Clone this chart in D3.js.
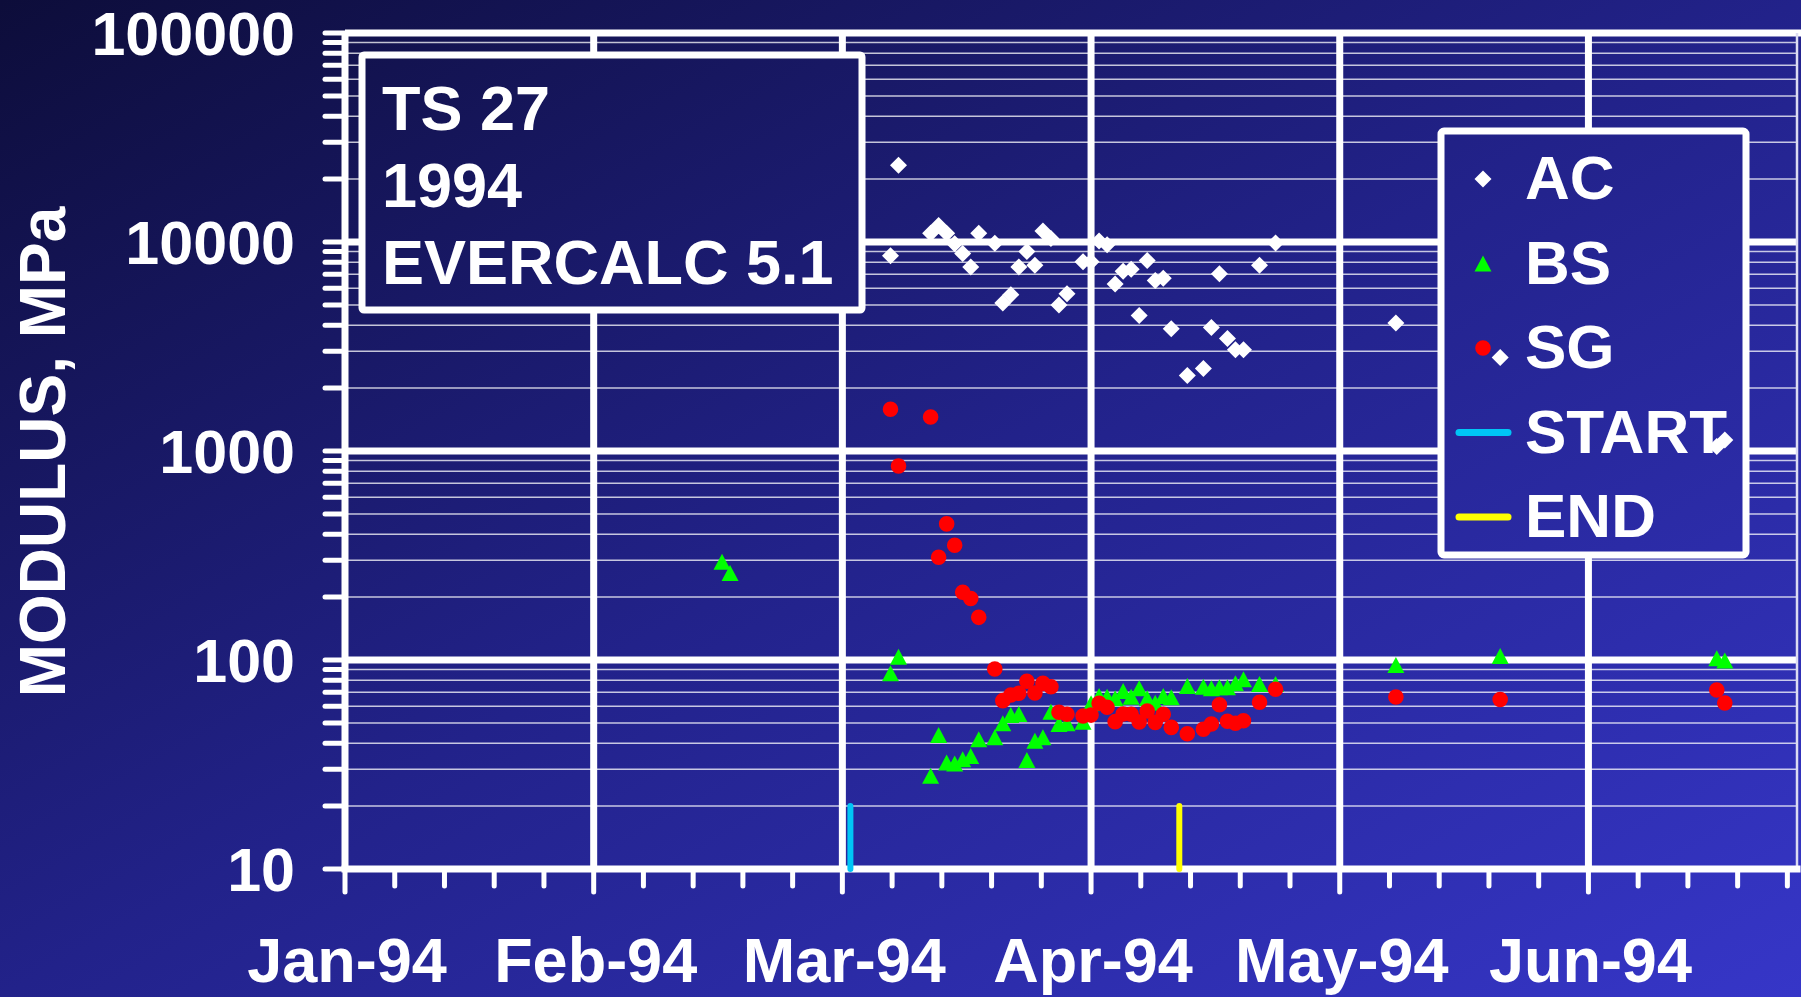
<!DOCTYPE html>
<html>
<head>
<meta charset="utf-8">
<script src="https://cdn.jsdelivr.net/npm/d3@7"></script>
<style>
  html, body { margin: 0; padding: 0; background: #1a1a6a; }
  svg { display: block; }
  text { font-family: "Liberation Sans", Arial, sans-serif; font-weight: bold; fill: #ffffff; }
</style>
</head>
<body>
<svg id="chart" width="1801" height="997"></svg>
<script>
// ---- Data: back-calculated layer moduli (MPa), test section TS 27, 1994 ----
const seriesNames = ["AC", "BS", "SG"];

const testDates = [
  "1994-02-17", "1994-02-18",
  "1994-03-10", "1994-03-11", "1994-03-15", "1994-03-16", "1994-03-17", "1994-03-18",
  "1994-03-19", "1994-03-20", "1994-03-21", "1994-03-23", "1994-03-24", "1994-03-25",
  "1994-03-26", "1994-03-27", "1994-03-28", "1994-03-29", "1994-03-30", "1994-03-31",
  "1994-04-01", "1994-04-03", "1994-04-04", "1994-04-05", "1994-04-06", "1994-04-07",
  "1994-04-08", "1994-04-09", "1994-04-10", "1994-04-11", "1994-04-12", "1994-04-13",
  "1994-04-14", "1994-04-16", "1994-04-18", "1994-04-19", "1994-04-20", "1994-04-21",
  "1994-04-22", "1994-04-23", "1994-04-25", "1994-04-27",
  "1994-05-12", "1994-05-25", "1994-06-21", "1994-06-22"
];

const acModulus = [
  null, null,
  8600, 23300, 11000, 12000, 11000, 9800,
  8800, 7600, 11000, 9850, 5100, 5600,
  7600, 9000, 7750, 11300, 10400, 5000,
  5650, 8050, 8050, 10100, 9700, 6300,
  7250, 7400, 4450, 8150, 6550, 6700,
  3850, 2300, 2480, 3900, 7050, 3450,
  3050, 3050, 7750, 9900,
  4100, 2800, 1050, 1130
];

const bsModulus = [
  295, 261,
  86.4, 103.7, 27.9, 43.8, 32.3, 32.0,
  33.5, 34.7, 41.8, 42.7, 49.8, 54.5,
  55.2, 33.2, 41.1, 42.7, 56.6, 49.4,
  49.8, 50.7, 62.1, 67.3, 66.7, 65.6,
  71.1, 66.7, 73.2, 65.6, 62.5, 67.3,
  66.3, 75.1, 74.5, 73.2, 74.0, 74.0,
  77.3, 80.9, 76.8, 76.8,
  94.6, 104.5, 102, 99.5
];

const sgModulus = [
  null, null,
  1585, 848, 1455, 310, 448, 354,
  211, 197, 160, 90.6, 63.9, 68.0,
  69.3, 79.1, 69.5, 77.3, 74.5, 56.2,
  55.0, 54.0, 54.5, 62.1, 59.4, 50.7,
  55.2, 55.0, 50.5, 57.0, 50.3, 55.0,
  47.6, 44.4, 46.6, 49.4, 61.1, 50.9,
  49.8, 51.2, 62.8, 72.4,
  66.5, 64.7, 71.8, 62.3
];

// Start / end of the test period, drawn as short bars from 10 to 20 MPa
const periodNames = ["START", "END"];
const periodDates = ["1994-03-05", "1994-04-15"];
const periodRange = [10, 20];

// Axes
const xDomainDates = ["1994-01-01", "1994-07-01"];
const xMajorStepDays = 31;
const xMinorPerMajor = 5;
const xTickLabels = ["Jan-94", "Feb-94", "Mar-94", "Apr-94", "May-94", "Jun-94"];
const yMajorTicks = [10, 100, 1000, 10000, 100000];
const yTickLabels = ["10", "100", "1000", "10000", "100000"];
const yTitle = "MODULUS, MPa";
const noteLines = ["TS 27", "1994", "EVERCALC 5.1"];

// ---- Layout ----
const W = 1801, H = 997;
const plot = { left: 345, right: 1797, top: 33, bottom: 869 };
const colors = { AC: "#ffffff", BS: "#00ff00", SG: "#ff0000", START: "#00c6f6", END: "#ffff00" };

const parse = d3.utcParse("%Y-%m-%d");
const DAY = 864e5;

const x = d3.scaleUtc()
  .domain(xDomainDates.map(parse))
  .range([plot.left, plot.right]);

const y = d3.scaleLog()
  .domain([yMajorTicks[0], yMajorTicks[yMajorTicks.length - 1]])
  .range([plot.bottom, plot.top]);

const svg = d3.select("#chart");
const defs = svg.append("defs");

// Diagonal background gradient, in page coordinates so boxes share it
const g = [1 / (2 * W), 1 / (2 * H)];
const g2 = g[0] * g[0] + g[1] * g[1];
const grad = defs.append("linearGradient")
  .attr("id", "bg")
  .attr("gradientUnits", "userSpaceOnUse")
  .attr("x1", 0).attr("y1", 0)
  .attr("x2", g[0] / g2).attr("y2", g[1] / g2);
grad.append("stop").attr("offset", 0).attr("stop-color", "#0d0d3a");
grad.append("stop").attr("offset", 0.5).attr("stop-color", "#22228a");
grad.append("stop").attr("offset", 1).attr("stop-color", "#3636c8");

svg.append("rect").attr("width", W).attr("height", H).attr("fill", "url(#bg)");

// ---- Gridlines ----
const startDate = parse(xDomainDates[0]);
const majorDates = d3.range(0, 181, xMajorStepDays).map(d => new Date(startDate.getTime() + d * DAY));
const minorStep = xMajorStepDays / xMinorPerMajor;
const minorDates = d3.range(1, Math.floor(181 / minorStep) + 1)
  .filter(i => i % xMinorPerMajor !== 0)
  .map(i => new Date(startDate.getTime() + i * minorStep * DAY));

const yMinor = [];
yMajorTicks.slice(0, -1).forEach(dec => {
  for (let k = 2; k <= 9; k++) yMinor.push(dec * k);
});

const grid = svg.append("g");
grid.selectAll(".ym").data(yMinor).join("line")
  .attr("x1", plot.left).attr("x2", plot.right)
  .attr("y1", d => y(d)).attr("y2", d => y(d))
  .attr("stroke", "#ffffff").attr("stroke-opacity", 0.75).attr("stroke-width", 1.5);

grid.selectAll(".yM").data(yMajorTicks.slice(1)).join("line")
  .attr("x1", plot.left).attr("x2", (d, i, n) => i === n.length - 1 ? W : plot.right)
  .attr("y1", d => y(d)).attr("y2", d => y(d))
  .attr("stroke", "#ffffff").attr("stroke-width", 7);

grid.selectAll(".xM").data(majorDates.slice(1)).join("line")
  .attr("x1", d => x(d)).attr("x2", d => x(d))
  .attr("y1", plot.top).attr("y2", plot.bottom)
  .attr("stroke", "#ffffff").attr("stroke-width", 7);

// right edge of the plot area
grid.append("line")
  .attr("x1", plot.right).attr("x2", plot.right)
  .attr("y1", plot.top).attr("y2", plot.bottom)
  .attr("stroke", "#dcdcf2").attr("stroke-width", 2.5);

// ---- Axes ----
const axes = svg.append("g").attr("stroke", "#ffffff").attr("stroke-linecap", "round");

// y ticks (major and minor)
axes.selectAll(".yt").data(yMajorTicks.concat(yMinor)).join("line")
  .attr("x1", plot.left - 20).attr("x2", plot.left)
  .attr("y1", d => y(d)).attr("y2", d => y(d))
  .attr("stroke-width", 5);

// x ticks
axes.selectAll(".xt").data(majorDates).join("line")
  .attr("x1", d => x(d)).attr("x2", d => x(d))
  .attr("y1", plot.bottom).attr("y2", plot.bottom + 23)
  .attr("stroke-width", 5);
axes.selectAll(".xm").data(minorDates).join("line")
  .attr("x1", d => x(d)).attr("x2", d => x(d))
  .attr("y1", plot.bottom).attr("y2", plot.bottom + 17)
  .attr("stroke-width", 5);

// axis lines
axes.append("line")
  .attr("x1", plot.left).attr("x2", plot.left)
  .attr("y1", plot.top).attr("y2", plot.bottom)
  .attr("stroke-width", 7).attr("stroke-linecap", "butt");
axes.append("line")
  .attr("x1", plot.left).attr("x2", plot.right)
  .attr("y1", plot.bottom).attr("y2", plot.bottom)
  .attr("stroke-width", 7).attr("stroke-linecap", "square");

// ---- Axis labels ----
svg.append("g").selectAll("text").data(yMajorTicks).join("text")
  .attr("x", plot.left - 50)
  .attr("y", d => y(d) + 22)
  .attr("text-anchor", "end")
  .attr("font-size", 61)
  .text((d, i) => yTickLabels[i]);

svg.append("g").selectAll("text").data(majorDates).join("text")
  .attr("x", d => x(d) + 2)
  .attr("y", 982)
  .attr("text-anchor", "middle")
  .attr("font-size", 63)
  .text((d, i) => xTickLabels[i]);

svg.append("text")
  .attr("transform", "translate(65,452) rotate(-90)")
  .attr("text-anchor", "middle")
  .attr("font-size", 64)
  .text(yTitle);

// ---- Note box ----
const note = svg.append("g");
note.append("rect")
  .attr("x", 362).attr("y", 55).attr("width", 500).attr("height", 255)
  .attr("rx", 2)
  .attr("fill", "url(#bg)").attr("stroke", "#ffffff").attr("stroke-width", 7);
note.selectAll("text").data(noteLines).join("text")
  .attr("x", 382)
  .attr("y", (d, i) => 130 + i * 77)
  .attr("font-size", 63)
  .text(d => d);

// ---- Legend ----
const legend = svg.append("g");
legend.append("rect")
  .attr("x", 1441).attr("y", 131).attr("width", 305).attr("height", 424)
  .attr("rx", 3)
  .attr("fill", "url(#bg)").attr("stroke", "#ffffff").attr("stroke-width", 7);

// marker shapes
const diamond = "M0,-8.5L8.5,0L0,8.5L-8.5,0Z";
const triangle = "M0,-8L8.5,8L-8.5,8Z";
const circle = d3.symbol(d3.symbolCircle, Math.PI * 7.8 * 7.8)();
const markerPath = { AC: diamond, BS: triangle, SG: circle };

const legendItems = seriesNames.concat(periodNames);
const legendRowY = i => 179 + i * 84.5;
legendItems.forEach((name, i) => {
  const cy = legendRowY(i);
  if (markerPath[name]) {
    legend.append("path")
      .attr("transform", `translate(1483,${cy})`)
      .attr("d", markerPath[name])
      .attr("fill", colors[name]);
  } else {
    legend.append("line")
      .attr("x1", 1459).attr("x2", 1508)
      .attr("y1", cy).attr("y2", cy)
      .attr("stroke", colors[name]).attr("stroke-width", 7)
      .attr("stroke-linecap", "round");
  }
  legend.append("text")
    .attr("x", 1525).attr("y", cy + 20)
    .attr("font-size", 62)
    .text(name);
});

// ---- Data markers ----
const seriesValues = { AC: acModulus, BS: bsModulus, SG: sgModulus };
seriesNames.forEach(name => {
  const pts = testDates
    .map((d, i) => ({ date: parse(d), value: seriesValues[name][i] }))
    .filter(p => p.value != null);
  svg.append("g").selectAll("path").data(pts).join("path")
    .attr("transform", p => `translate(${x(p.date)},${y(p.value)})`)
    .attr("d", markerPath[name])
    .attr("fill", colors[name]);
});

// ---- Start / end bars ----
svg.append("g").selectAll("line").data(periodDates).join("line")
  .attr("x1", d => x(parse(d))).attr("x2", d => x(parse(d)))
  .attr("y1", y(periodRange[0])).attr("y2", y(periodRange[1]))
  .attr("stroke", (d, i) => colors[periodNames[i]])
  .attr("stroke-width", 6)
  .attr("stroke-linecap", "round");
</script>
</body>
</html>
